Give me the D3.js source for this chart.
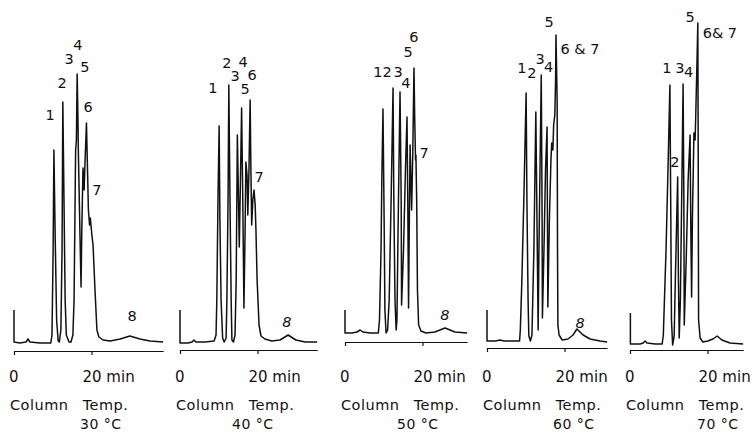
<!DOCTYPE html>
<html><head>
<meta charset="utf-8">
<title>Chromatograms at five column temperatures</title>
<script src="https://cdnjs.cloudflare.com/ajax/libs/d3/7.8.5/d3.min.js"></script>
<style>
  body { margin: 0; background: #fff; }
  svg text { font-family: "DejaVu Sans", sans-serif; font-size: 15px; fill: #111; }
  .peak { font-size: 14.5px; }
  .cap { font-size: 14.5px; letter-spacing: 0.5px; }
  .temp { font-size: 14px; letter-spacing: 0.5px; }
  .trace { fill: none; stroke: #111; stroke-width: 1.5; stroke-linejoin: round; }
  .axis path, .axis line { stroke: #111; stroke-width: 1.2; }
</style>
</head>
<body>
<svg id="chart" width="754" height="433"></svg>

<script>
// ---- data: [time (min), detector response (a.u.)] ----
const temps = ["30 °C", "40 °C", "50 °C", "60 °C", "70 °C"];
const runEnd = [38.5, 35.4, 31.5, 31.0, 29.2];   // end of each recording, min
const xTicks = [0, 20];
const xTickLabels = ["0", "20 min"];

const trace30 = [[0,41],[0,9],[1.5,8],[3.1,9],[3.6,12],[4.1,9],[6.7,8],[9.5,8],[9.8,16],[10.1,101],
  [10.3,201],[10.6,121],[11.0,31],[11.4,10],[11.7,9],[12.1,21],[12.4,101],[12.6,249],[12.9,151],
  [13.2,51],[13.5,16],[14.2,9],[14.7,9],[15.2,16],[15.5,51],[15.9,201],[16.1,211],[16.3,277],
  [16.5,233],[16.6,201],[17.0,121],[17.3,64],[17.5,121],[17.8,183],[18.1,161],[18.3,186],
  [18.7,228],[18.97,181],[19.2,141],[19.5,126],[19.7,133],[20.1,116],[20.4,106],[20.9,61],
  [21.4,21],[21.9,14],[23.0,11],[24.8,10],[27.4,12],[29.9,15],[32.5,12],[35.1,10],[38.5,9]];

const trace40 = [[0,40],[0,7],[2.1,7],[3.1,8],[3.6,10],[4.1,8],[6.5,8],[8.8,9],[9.3,15],[9.5,50],
  [9.8,150],[10.1,224],[10.3,130],[10.6,50],[11.0,12],[11.4,8],[11.9,12],[12.1,50],[12.4,150],
  [12.6,265],[12.9,150],[13.2,50],[13.4,10],[13.8,8],[14.2,15],[14.5,70],[14.8,215],[15.1,150],
  [15.3,103],[15.6,170],[15.9,242],[16.2,150],[16.5,42],[16.8,120],[17.0,188],[17.3,175],
  [17.5,135],[17.8,180],[18.1,250],[18.3,180],[18.5,125],[18.8,150],[19.1,160],[19.4,145],
  [19.6,120],[19.9,70],[20.4,25],[20.9,14],[21.9,11],[23.7,9],[25.8,10],[27.9,15],[29.9,10],
  [32.3,8],[35.4,8]];

const trace50 = [[0,32],[0,9],[1.8,9],[3.1,10],[3.9,12],[4.6,10],[6.5,9],[8.6,9],[8.9,22],[9.3,92],
  [9.5,162],[9.8,233],[10.1,122],[10.3,32],[10.6,9],[11.0,12],[11.4,42],[11.9,142],[12.4,254],
  [12.6,142],[12.9,42],[13.2,12],[13.4,22],[13.8,142],[14.2,250],[14.5,142],[14.6,37],[15.1,92],
  [15.6,172],[16.0,225],[16.2,142],[16.4,34],[16.6,122],[16.8,197],[17.0,162],[17.2,132],
  [17.5,192],[17.8,274],[18.0,222],[18.2,182],[18.3,187],[18.5,142],[18.7,52],[19.0,17],
  [19.6,11],[20.9,9],[23.2,10],[25.8,14],[28.4,10],[31.5,9]];

const trace60 = [[0,38],[0,7],[2.1,7],[3.4,8],[4.4,7],[6.5,7],[8.4,7],[8.6,18],[9.0,68],[9.5,148],
  [10.1,255],[10.3,148],[10.6,48],[10.8,12],[11.2,7],[11.6,13],[12.1,98],[12.6,236],[12.9,128],
  [13.2,18],[13.4,98],[14.0,273],[14.2,148],[14.3,30],[14.7,98],[15.1,178],[15.5,221],[15.6,128],
  [15.7,41],[16.1,128],[16.5,188],[16.7,205],[17.0,198],[17.2,223],[17.5,233],[17.7,268],
  [17.8,313],[18.1,248],[18.2,98],[18.3,23],[18.6,13],[19.4,8],[20.9,9],[22.2,13],[23.2,19],
  [24.8,13],[26.6,9],[29.2,7],[31.0,6]];

const trace70 = [[0.1,37],[0.1,6],[2.6,6],[3.4,7],[3.9,9],[4.4,7],[6.5,6],[8.3,6],[8.6,15],[9.3,100],
  [9.8,180],[10.3,265],[10.5,150],[10.7,30],[11.0,5],[11.4,14],[11.7,70],[12.3,173],[12.5,70],
  [12.7,12],[13.0,50],[13.4,170],[13.7,266],[13.9,150],[14.0,25],[14.5,90],[15.0,170],[15.5,215],
  [15.7,120],[15.9,53],[16.1,130],[16.5,217],[16.8,210],[17.0,240],[17.3,290],[17.5,327],
  [17.6,200],[17.7,30],[18.1,12],[18.8,8],[20.1,9],[21.4,11],[22.5,14],[23.7,10],[25.8,7],[29.2,6]];

// peak numbers: [text, time, response]
const labels30 = [["1",9.3,236],["2",12.4,268],["3",14.2,292],["4",16.5,306],["5",18.3,284],
  ["6",19.1,244],["7",21.4,161],["8",30.5,35]];
const labels40 = [["1",8.5,262],["2",12.1,287],["3",14.2,274],["4",16.3,288],["5",16.8,261],
  ["6",18.6,275],["7",20.4,173],["8",27.6,28]];
const labels50 = [["1",8.5,270],["2",10.9,270],["3",13.7,270],["4",15.7,259],["5",16.3,290],
  ["6",17.8,305],["7",20.4,189],["8",25.8,27]];
const labels60 = [["1",9.0,280],["2",11.6,275],["3",13.7,289],["4",15.9,281],["5",16.0,326],
  ["6 & 7",24.0,299],["8",24.0,25]];
const labels70 = [["1",9.5,282],["2",11.6,188],["3",12.9,282],["4",15.1,278],["5",15.5,333],
  ["6& 7",23.2,317]];

const traces = [trace30, trace40, trace50, trace60, trace70];
const peakLabels = [labels30, labels40, labels50, labels60, labels70];

// ---- layout ----
const panelX = [14, 180, 345, 487, 630];
const axisY  = [351, 350, 342, 348, 350];
const tempDx = [66, 52, 52, 66, 67];
const pxPerMin = 3.875;

const svg = d3.select("#chart");

traces.forEach(function(trace, i) {
  let x = d3.scaleLinear()
    .domain([0, runEnd[i]])
    .range([panelX[i], panelX[i] + runEnd[i] * pxPerMin]);
  let y = d3.scaleLinear()
    .domain([0, 330])
    .range([axisY[i], axisY[i] - 330]);

  let g = svg.append("g");

  // time axis
  g.append("g")
    .attr("class", "axis")
    .attr("transform", "translate(0," + axisY[i] + ")")
    .call(d3.axisBottom(x).tickValues(xTicks).tickSize(4).tickSizeOuter(0).tickFormat(""));

  xTicks.forEach(function(t, k) {
    g.append("text")
      .attr("x", x(t) - (k === 0 ? 5 : 9))
      .attr("y", 382)
      .text(xTickLabels[k]);
  });

  // chromatogram
  let line = d3.line().x(d => x(d[0])).y(d => y(d[1]));
  g.append("path")
    .attr("class", "trace")
    .attr("d", line(trace));

  // peak numbers
  peakLabels[i].forEach(function(l) {
    g.append("text")
      .attr("class", "peak")
      .attr("x", x(l[1]))
      .attr("y", y(l[2]))
      .attr("text-anchor", "middle")
      .attr("dy", "0.36em")
      .style("font-style", (l[0] === "8" && i > 0) ? "italic" : "normal")
      .text(l[0]);
  });

  // caption
  let cap = g.append("text")
    .attr("class", "cap")
    .attr("x", panelX[i] - 4)
    .attr("y", 410)
    .text("Column ");
  cap.append("tspan").attr("dx", 9).text("Temp.");

  g.append("text")
    .attr("class", "temp")
    .attr("x", panelX[i] + tempDx[i])
    .attr("y", 429)
    .text(temps[i]);
});
</script>
</body>
</html>
